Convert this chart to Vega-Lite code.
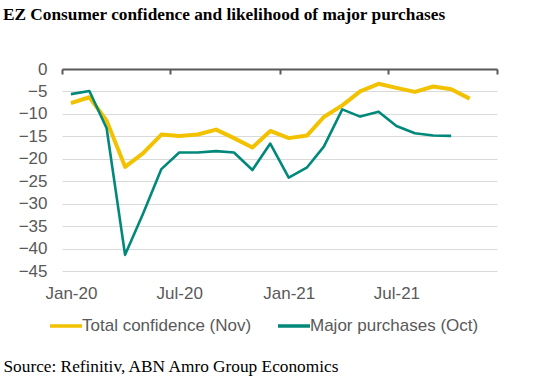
{
  "$schema": "https://vega.github.io/schema/vega-lite/v6.json",
  "width": 435,
  "height": 202,
  "autosize": {"type": "none"},
  "padding": {"left": 62, "top": 69, "right": 38, "bottom": 105},
  "background": "white",
  "title": {
    "text": "EZ Consumer confidence and likelihood of major purchases",
    "font": "Liberation Serif",
    "fontSize": 17.3,
    "fontWeight": "bold",
    "color": "#000000",
    "anchor": "start",
    "frame": "group",
    "baseline": "alphabetic",
    "dx": -59,
    "offset": 23
  },
  "data": {
    "values": [
      {"month": "2020-01-16T00:00:00", "series": "Total confidence (Nov)", "value": -7.6},
      {"month": "2020-02-16T00:00:00", "series": "Total confidence (Nov)", "value": -6.3},
      {"month": "2020-03-16T00:00:00", "series": "Total confidence (Nov)", "value": -11.5},
      {"month": "2020-04-16T00:00:00", "series": "Total confidence (Nov)", "value": -21.8},
      {"month": "2020-05-16T00:00:00", "series": "Total confidence (Nov)", "value": -18.8},
      {"month": "2020-06-16T00:00:00", "series": "Total confidence (Nov)", "value": -14.6},
      {"month": "2020-07-16T00:00:00", "series": "Total confidence (Nov)", "value": -14.9},
      {"month": "2020-08-16T00:00:00", "series": "Total confidence (Nov)", "value": -14.6},
      {"month": "2020-09-16T00:00:00", "series": "Total confidence (Nov)", "value": -13.5},
      {"month": "2020-10-16T00:00:00", "series": "Total confidence (Nov)", "value": -15.4},
      {"month": "2020-11-16T00:00:00", "series": "Total confidence (Nov)", "value": -17.5},
      {"month": "2020-12-16T00:00:00", "series": "Total confidence (Nov)", "value": -13.8},
      {"month": "2021-01-16T00:00:00", "series": "Total confidence (Nov)", "value": -15.4},
      {"month": "2021-02-16T00:00:00", "series": "Total confidence (Nov)", "value": -14.8},
      {"month": "2021-03-16T00:00:00", "series": "Total confidence (Nov)", "value": -10.7},
      {"month": "2021-04-16T00:00:00", "series": "Total confidence (Nov)", "value": -8.1},
      {"month": "2021-05-16T00:00:00", "series": "Total confidence (Nov)", "value": -5.0},
      {"month": "2021-06-16T00:00:00", "series": "Total confidence (Nov)", "value": -3.3},
      {"month": "2021-07-16T00:00:00", "series": "Total confidence (Nov)", "value": -4.2},
      {"month": "2021-08-16T00:00:00", "series": "Total confidence (Nov)", "value": -5.1},
      {"month": "2021-09-16T00:00:00", "series": "Total confidence (Nov)", "value": -3.9},
      {"month": "2021-10-16T00:00:00", "series": "Total confidence (Nov)", "value": -4.5},
      {"month": "2021-11-16T00:00:00", "series": "Total confidence (Nov)", "value": -6.6},
      {"month": "2020-01-16T00:00:00", "series": "Major purchases (Oct)", "value": -5.6},
      {"month": "2020-02-16T00:00:00", "series": "Major purchases (Oct)", "value": -4.9},
      {"month": "2020-03-16T00:00:00", "series": "Major purchases (Oct)", "value": -13.2},
      {"month": "2020-04-16T00:00:00", "series": "Major purchases (Oct)", "value": -41.4},
      {"month": "2020-05-16T00:00:00", "series": "Major purchases (Oct)", "value": -32.3},
      {"month": "2020-06-16T00:00:00", "series": "Major purchases (Oct)", "value": -22.3},
      {"month": "2020-07-16T00:00:00", "series": "Major purchases (Oct)", "value": -18.6},
      {"month": "2020-08-16T00:00:00", "series": "Major purchases (Oct)", "value": -18.6},
      {"month": "2020-09-16T00:00:00", "series": "Major purchases (Oct)", "value": -18.3},
      {"month": "2020-10-16T00:00:00", "series": "Major purchases (Oct)", "value": -18.6},
      {"month": "2020-11-16T00:00:00", "series": "Major purchases (Oct)", "value": -22.5},
      {"month": "2020-12-16T00:00:00", "series": "Major purchases (Oct)", "value": -16.6},
      {"month": "2021-01-16T00:00:00", "series": "Major purchases (Oct)", "value": -24.2},
      {"month": "2021-02-16T00:00:00", "series": "Major purchases (Oct)", "value": -21.9},
      {"month": "2021-03-16T00:00:00", "series": "Major purchases (Oct)", "value": -17.3},
      {"month": "2021-04-16T00:00:00", "series": "Major purchases (Oct)", "value": -9.0},
      {"month": "2021-05-16T00:00:00", "series": "Major purchases (Oct)", "value": -10.6},
      {"month": "2021-06-16T00:00:00", "series": "Major purchases (Oct)", "value": -9.5},
      {"month": "2021-07-16T00:00:00", "series": "Major purchases (Oct)", "value": -12.7},
      {"month": "2021-08-16T00:00:00", "series": "Major purchases (Oct)", "value": -14.3},
      {"month": "2021-09-16T00:00:00", "series": "Major purchases (Oct)", "value": -14.8},
      {"month": "2021-10-16T00:00:00", "series": "Major purchases (Oct)", "value": -14.9}
    ]
  },
  "encoding": {
    "y": {
      "field": "value",
      "type": "quantitative",
      "scale": {"domain": [-45, 0], "nice": false, "zero": false},
      "axis": {
        "title": null,
        "values": [-45, -40, -35, -30, -25, -20, -15, -10, -5, 0],
        "domain": false,
        "ticks": false,
        "grid": true,
        "gridColor": "#d9d9d9",
        "gridWidth": 1,
        "labelFont": "Liberation Sans",
        "labelFontSize": 17,
        "labelColor": "#595959",
        "labelPadding": 15
      }
    },
    "color": {
      "field": "series",
      "type": "nominal",
      "scale": {
        "domain": ["Total confidence (Nov)", "Major purchases (Oct)"],
        "range": ["#F2C200", "#00897B"]
      },
      "legend": {
        "title": null,
        "orient": "none",
        "direction": "horizontal",
        "legendX": -14,
        "legendY": 239,
        "symbolType": "stroke",
        "symbolSize": 1024,
        "symbolStrokeWidth": 3.5,
        "labelFont": "Liberation Sans",
        "labelFontSize": 17,
        "labelColor": "#595959",
        "labelOffset": -2,
        "labelLimit": 400,
        "columnPadding": 19
      }
    }
  },
  "layer": [
    {
      "transform": [{"filter": "datum.series === 'Total confidence (Nov)'"}],
      "mark": {"type": "line", "strokeWidth": 4, "strokeJoin": "round"},
      "encoding": {
        "x": {
          "field": "month",
          "type": "temporal",
          "scale": {
            "domain": [
              {"year": 2020, "month": 1, "date": 1},
              {"year": 2022, "month": 1, "date": 1}
            ]
          },
          "axis": {
            "orient": "bottom",
            "title": "Source: Refinitiv, ABN Amro Group Economics",
            "titleFont": "Liberation Serif",
            "titleFontSize": 17.3,
            "titleFontWeight": "normal",
            "titleColor": "#000000",
            "titleAlign": "left",
            "titleAnchor": "start",
            "titleBaseline": "alphabetic",
            "titleX": -59,
            "titleY": 100,
            "values": [
              {"year": 2020, "month": 1, "date": 16},
              {"year": 2020, "month": 7, "date": 16},
              {"year": 2021, "month": 1, "date": 16},
              {"year": 2021, "month": 7, "date": 16}
            ],
            "format": "%b-%y",
            "domain": false,
            "ticks": false,
            "grid": false,
            "labelFont": "Liberation Sans",
            "labelFontSize": 17,
            "labelColor": "#595959",
            "labelPadding": 14,
            "labelFlush": false
          }
        }
      }
    },
    {
      "transform": [{"filter": "datum.series === 'Major purchases (Oct)'"}],
      "mark": {"type": "line", "strokeWidth": 2.6, "strokeJoin": "round"},
      "encoding": {
        "x": {
          "field": "month",
          "type": "temporal",
          "axis": {
            "orient": "top",
            "title": null,
            "labels": false,
            "values": [
              {"year": 2020, "month": 1, "date": 1},
              {"year": 2020, "month": 7, "date": 1},
              {"year": 2021, "month": 1, "date": 1},
              {"year": 2021, "month": 7, "date": 1},
              {"year": 2022, "month": 1, "date": 1}
            ],
            "domain": true,
            "domainColor": "#595959",
            "domainWidth": 2,
            "ticks": true,
            "tickColor": "#595959",
            "tickWidth": 2,
            "tickSize": -5,
            "grid": false
          }
        }
      }
    }
  ],
  "resolve": {"axis": {"x": "independent"}},
  "config": {"view": {"stroke": null}}
}
